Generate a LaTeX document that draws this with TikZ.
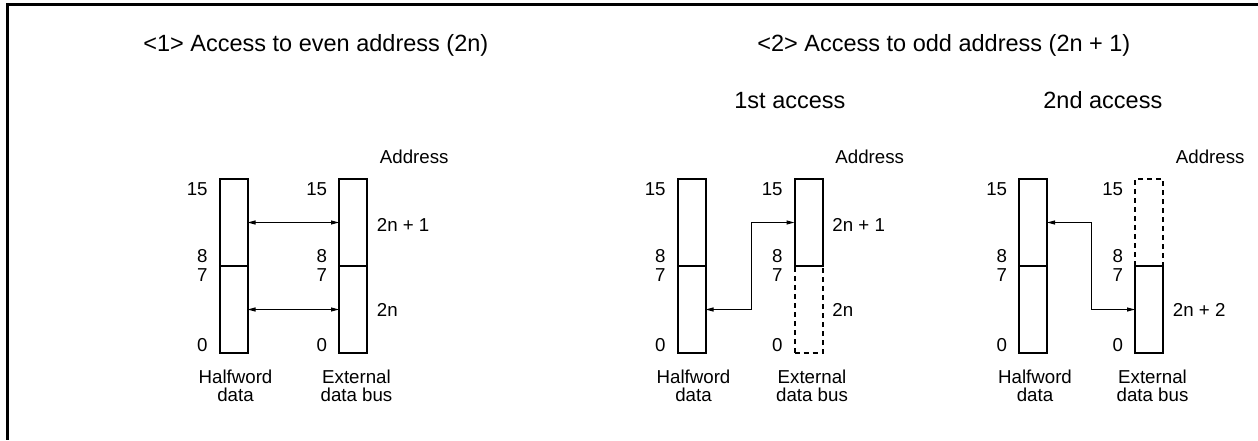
\documentclass[tikz,border=0pt]{standalone}
\usepackage{fontspec}
\setmainfont{Liberation Sans}
\usetikzlibrary{arrows.meta}

\begin{document}
\begin{tikzpicture}
[x=0.5pt,y=-0.5pt,
  frameDecorate/.style={line width=1.5pt},
  boxDecorate/.style={shape=rectangle,draw,line width=1pt,inner sep=0pt,outer sep=0pt,
    minimum width=14pt,minimum height=43.5pt},
  dashDecorate/.style={boxDecorate,dash pattern=on 2.5pt off 2pt},
  arrowDecorate/.style={{Triangle[length=4pt,width=2pt]}-{Triangle[length=4pt,width=2pt]},line width=0.5pt},
  labelDecorate/.style={font=\fontsize{9.35}{9}\selectfont,inner sep=0pt},
  titleDecorate/.style={font=\fontsize{11.75}{14}\selectfont,inner sep=0pt}]
\useasboundingbox (0,0) rectangle (1258,440);
%% frame
\draw[frameDecorate] (1258,4.5) -- (7,4.5) -- (7,440);
%% titles
\node (title1) at (143,51) [titleDecorate,anchor=base west] {<1> Access to even address (2n)};
\node (title2) at (757,51) [titleDecorate,anchor=base west] {<2> Access to odd address (2n + 1)};
\node (first) at (734,108) [titleDecorate,anchor=base west] {1st access};
\node (second) at (1043,108) [titleDecorate,anchor=base west] {2nd access};
%% boxes and their labels
\foreach \p/\xh/\xe/\hiStyle/\loStyle in {
  1/233.5/353/boxDecorate/boxDecorate,
  2/691.5/808.5/boxDecorate/dashDecorate,
  3/1033/1149/dashDecorate/boxDecorate}
{
  \node (hwHi\p) at (\xh,222.5) [boxDecorate] {};
  \node (hwLo\p) at (\xh,309.5) [boxDecorate] {};
  \node (busHi\p) at (\xe,222.5) [\hiStyle] {};
  \node (busLo\p) at (\xe,309.5) [\loStyle] {};
  \foreach \side/\x in {hw/\xh, bus/\xe}
    \foreach \bit/\y in {15/195, 8/262, 7/281, 0/351}
      \node (\side\bit n\p) at (\x-25.5,\y) [labelDecorate,anchor=base east] {\bit};
  \node (addr\p) at (\xe+26.5,163) [labelDecorate,anchor=base west] {Address};
  \node (hwName\p) at (\xh+2,401) [labelDecorate,anchor=base,align=center] {Halfword\\data};
  \node (busName\p) at (\xe+3.5,401) [labelDecorate,anchor=base,align=center] {External\\data bus};
}
%% address of each byte
\foreach \name/\x/\y/\txt in {
  hiAddr1/376.5/231/2n + 1, loAddr1/376.5/316/2n,
  hiAddr2/832/231/2n + 1, loAddr2/832/316/2n,
  loAddr3/1172.5/316/2n + 2}
{
  \node (\name) at (\x,\y) [labelDecorate,anchor=base west] {\txt};
}
%% transfers
\draw[arrowDecorate] (hwHi1) -- (busHi1);
\draw[arrowDecorate] (hwLo1) -- (busLo1);
\draw[arrowDecorate] (busHi2.west) -- ++(-43.5,0) |- (hwLo2.east);
\draw[arrowDecorate] (hwHi3.east) -- ++(44,0) |- (busLo3.west);
\end{tikzpicture}
\end{document}
